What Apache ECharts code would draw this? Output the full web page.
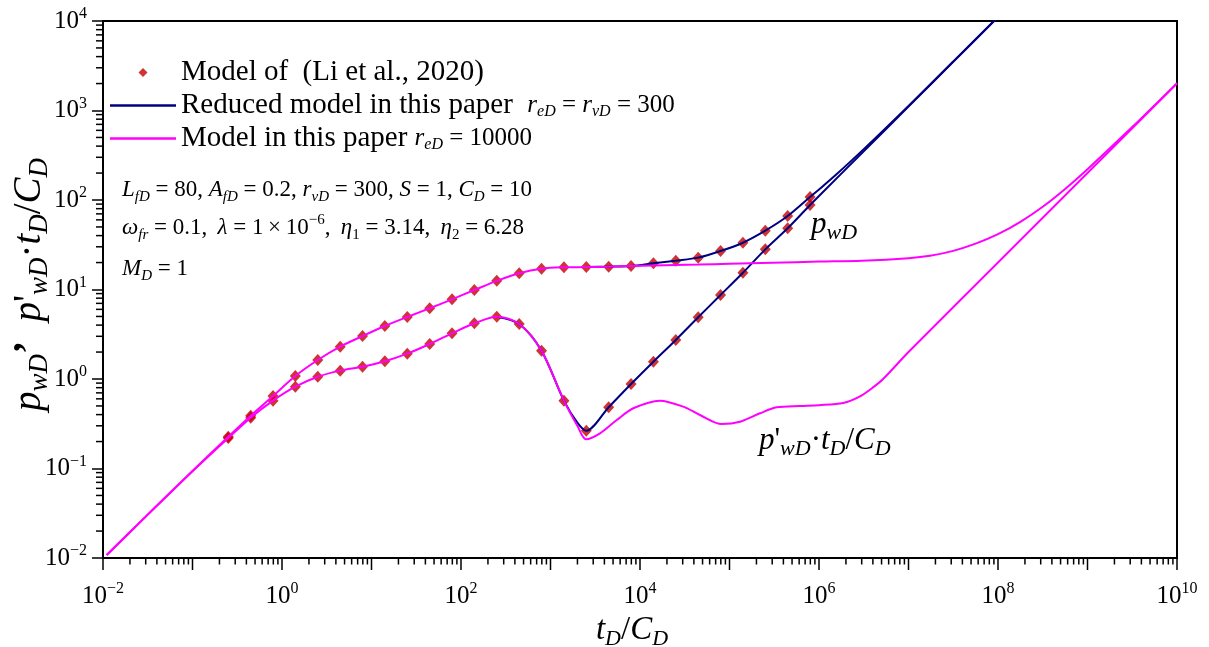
<!DOCTYPE html>
<html>
<head>
<meta charset="utf-8">
<script src="https://cdn.jsdelivr.net/npm/echarts@6/dist/echarts.min.js"></script>
<style>
html, body { margin: 0; padding: 0; background: #ffffff; }
#chart { width: 1209px; height: 647px; }
</style>
</head>
<body>
<div id="chart"></div>
<script>
// ---- Series names ----
const LI = 'Model of  (Li et al., 2020)';
const REDUCED = 'Reduced model in this paper';
const FULL = 'Model in this paper';

// ---- Li et al. (2020): sampled points, tD/CD ----
const liTime = [0.251, 0.447, 0.794, 1.41, 2.51, 4.47, 7.94, 14.1, 25.1, 44.7, 79.4, 141, 251, 447, 794,
  1413, 2512, 4467, 7943, 14125, 25119, 44668, 79433, 141254, 251189, 446684, 794328];
const liPressure = [0.226, 0.389, 0.646, 1.08, 1.63, 2.30, 3.02, 3.91, 4.93, 6.17, 7.77, 9.87, 12.5, 15.2, 17.1,
  17.7, 17.8, 18.0, 18.3, 19.6, 21.0, 22.7, 26.9, 33.3, 45.4, 66.2, 108];
const liDerivative = [0.219, 0.370, 0.573, 0.820, 1.06, 1.24, 1.37, 1.58, 1.92, 2.46, 3.24, 4.19, 4.97, 4.12, 2.07,
  0.573, 0.264, 0.483, 0.879, 1.56, 2.73, 4.89, 8.68, 15.4, 28.1, 48.3, 87.9];

// ---- Reduced model, reD = rvD = 300 ----
const reducedPressureTime = [2512, 4467, 7943, 14125, 25119, 44668, 79433, 141254, 251189, 446684, 794328,
  1.0e6, 1.58e6, 3.16e6, 1.0e7, 3.16e7, 1.0e8];
const reducedPressure = [17.8, 18.0, 18.3, 19.6, 21.0, 22.7, 26.9, 33.3, 45.4, 66.2, 108,
  131, 195, 370, 1127, 3520, 11090];
const reducedDerivativeTime = [251, 447, 794, 1413, 1995, 2512, 4467, 7943, 14125, 25119, 44668, 79433,
  141254, 251189, 446684, 794328, 1.0e6, 3.16e6, 1.0e7, 3.16e7, 1.0e8];
const reducedDerivative = [4.97, 4.12, 2.07, 0.573, 0.325, 0.264, 0.483, 0.879, 1.56, 2.73, 4.89, 8.68,
  15.4, 28.1, 48.3, 87.9, 111, 350, 1107, 3500, 11070];

// ---- Model in this paper, reD = 10000 ----
const fullPressureTime = [0.011, 0.03, 0.1, 0.251, 0.447, 0.794, 1.41, 2.51, 4.47, 7.94, 14.1, 25.1, 44.7, 79.4,
  141, 251, 447, 794, 1413, 2512, 4467, 7943, 14125, 25119, 44668, 1.0e5, 3.0e5, 1.0e6, 3.0e6, 1.0e7,
  1.74e7, 3.16e7, 5.62e7, 1.0e8, 1.78e8, 3.16e8, 5.62e8, 1.0e9, 3.16e9, 1.0e10];
const fullPressure = [0.0108, 0.029, 0.094, 0.226, 0.389, 0.646, 1.08, 1.63, 2.30, 3.02, 3.91, 4.93, 6.17, 7.77,
  9.87, 12.5, 15.2, 17.1, 17.7, 17.8, 18.0, 18.3, 18.5, 18.8, 19.0, 19.4, 19.9, 20.5, 21.0, 22.4,
  23.8, 27.0, 32.5, 41.5, 57, 84, 133, 221, 653, 2021];
const fullDerivativeTime = [0.011, 0.03, 0.1, 0.251, 0.447, 0.794, 1.41, 2.51, 4.47, 7.94, 14.1, 25.1, 44.7, 79.4,
  141, 251, 447, 794, 1413, 1995, 2500, 3573, 5495, 8414, 16710, 30480, 46770, 81850, 131000, 219000,
  337000, 614000, 1.0e6, 1.87e6, 2.87e6, 3.98e6, 5.2e6, 1.0e7, 1.0e8, 1.0e9, 1.0e10];
const fullDerivative = [0.0108, 0.029, 0.093, 0.219, 0.370, 0.573, 0.820, 1.06, 1.24, 1.37, 1.58, 1.92, 2.46, 3.24,
  4.19, 4.97, 4.12, 2.07, 0.573, 0.30, 0.212, 0.247, 0.348, 0.471, 0.573, 0.491, 0.396, 0.314, 0.333, 0.414,
  0.483, 0.50, 0.51, 0.54, 0.64, 0.80, 1.0, 2.0, 20, 200, 2000];

// ---- Axis ranges (decades) ----
const xMinExp = -2, xMaxExp = 10;
const yMinExp = -2, yMaxExp = 4;

const zip = (xs, ys) => xs.map((x, i) => [x, ys[i]]);
const SERIF = '"Liberation Serif", "Times New Roman", serif';
const INK = '#000000';
const NAVY = '#000080';
const PINK = '#ff00ff';
const RED = '#c40000';

// Rich styles for "10^n" tick labels
const tickRich = {
  b: { fontFamily: SERIF, fontSize: 25, lineHeight: 30, color: INK },
  e: { fontFamily: SERIF, fontSize: 16, lineHeight: 20, verticalAlign: 'top', color: INK }
};
const powerLabel = exp => '{b|10}{e|' + (exp < 0 ? '\u2212' + (-exp) : exp) + '}';

// Rich styles for axis titles and curve annotations
function mathRich(size, lh, subSize, subLh) {
  return {
    a: { fontFamily: SERIF, fontStyle: 'italic', fontSize: size, lineHeight: lh, color: INK },
    an: { fontFamily: SERIF, fontSize: size, lineHeight: lh, color: INK },
    as: { fontFamily: SERIF, fontStyle: 'italic', fontSize: subSize, lineHeight: subLh, verticalAlign: 'bottom', color: INK },
    c: { fontFamily: SERIF, fontWeight: 'bold', fontSize: size, lineHeight: lh, color: INK }
  };
}
const xTitleRich = mathRich(33, 40, 22, 16);
const yTitleRich = mathRich(39, 46, 27, 20);
const noteRich = mathRich(31, 38, 22, 16);

// Rich styles for the parameter block
const paramRich = {
  i: { fontFamily: SERIF, fontStyle: 'italic', fontSize: 23, lineHeight: 30, color: INK },
  n: { fontFamily: SERIF, fontSize: 23, lineHeight: 30, color: INK },
  s: { fontFamily: SERIF, fontStyle: 'italic', fontSize: 15, lineHeight: 14, verticalAlign: 'bottom', color: INK },
  sn: { fontFamily: SERIF, fontSize: 15, lineHeight: 14, verticalAlign: 'bottom', color: INK },
  p: { fontFamily: SERIF, fontSize: 15, lineHeight: 17, verticalAlign: 'top', color: INK }
};

// Rich styles for legend entries
const legendRich = {
  t: { fontFamily: SERIF, fontSize: 29, lineHeight: 28, color: INK },
  mi: { fontFamily: SERIF, fontStyle: 'italic', fontSize: 25, lineHeight: 28, color: INK },
  mn: { fontFamily: SERIF, fontSize: 25, lineHeight: 28, color: INK },
  ms: { fontFamily: SERIF, fontStyle: 'italic', fontSize: 16, lineHeight: 12, verticalAlign: 'bottom', color: INK }
};
const legendLabels = {};
legendLabels[LI] = '{t|' + LI + '}';
legendLabels[REDUCED] = '{t|' + REDUCED + '}{t|  }{mi|r}{ms|eD}{mn| = }{mi|r}{ms|vD}{mn| = 300}';
legendLabels[FULL] = '{t|' + FULL + ' }{mi|r}{ms|eD}{mn| = 10000}';
// Legend icons drawn in a 66 x 10 box: a small centred diamond, and a thin bar for the curves
const LEGEND_DIAMOND = 'path://M0,5L0,5M66,5L66,5M33,0.5L37.5,5L33,9.5L28.5,5Z';
const LEGEND_LINE = 'path://M0,0H66V2.4H0Z';

// Tick marks: kind 0 = x major (each decade), 1 = x minor, 2 = y minor
const tickMarks = [];
for (let e = xMinExp; e <= xMaxExp; e++) tickMarks.push([Math.pow(10, e), Math.pow(10, yMinExp), 0, e]);
for (let e = xMinExp; e < xMaxExp; e++) {
  for (let d = 2; d <= 9; d++) tickMarks.push([d * Math.pow(10, e), Math.pow(10, yMinExp), 1, e]);
}
for (let e = yMinExp; e < yMaxExp; e++) {
  for (let d = 2; d <= 9; d++) tickMarks.push([Math.pow(10, xMinExp), d * Math.pow(10, e), 2, e]);
}

function renderTick(params, api) {
  const kind = api.value(2);
  const p = api.coord([api.value(0), api.value(1)]);
  const stroke = { stroke: INK, lineWidth: 1.5 };
  if (kind === 2) {
    return { type: 'line', shape: { x1: p[0] - 7, y1: p[1], x2: p[0], y2: p[1] }, style: stroke };
  }
  const len = kind === 0 ? 12 : 6.5;
  const children = [{ type: 'line', shape: { x1: p[0], y1: p[1], x2: p[0], y2: p[1] + len }, style: stroke }];
  const exp = api.value(3);
  if (kind === 0 && Math.abs(exp) % 2 === 0) {
    children.push({
      type: 'text', x: p[0], y: p[1] + 38,
      style: { text: powerLabel(exp), rich: tickRich, align: 'center', verticalAlign: 'middle' }
    });
  }
  return { type: 'group', children: children };
}

const lineBase = { type: 'line', symbol: 'none', showSymbol: false, smooth: 0.3, silent: true };

const option = {
  animation: false,
  backgroundColor: '#ffffff',
  grid: {
    left: 103, right: 32, top: 21, bottom: 89, outerBoundsMode: 'none', containLabel: false,
    show: true, borderColor: INK, borderWidth: 2, backgroundColor: 'transparent'
  },
  legend: {
    orient: 'vertical', left: 110, top: 58, padding: 0, itemWidth: 66, itemHeight: 10, itemGap: 4,
    selectedMode: false, symbolKeepAspect: true,
    textStyle: { color: INK, fontFamily: SERIF, fontSize: 29, rich: legendRich },
    formatter: name => legendLabels[name],
    data: [
      { name: LI, icon: LEGEND_DIAMOND, itemStyle: { color: RED } },
      { name: REDUCED, icon: LEGEND_LINE, itemStyle: { color: NAVY } },
      { name: FULL, icon: LEGEND_LINE, itemStyle: { color: PINK } }
    ]
  },
  xAxis: {
    type: 'log', logBase: 10, min: Math.pow(10, xMinExp), max: Math.pow(10, xMaxExp),
    axisLine: { lineStyle: { color: INK, width: 2 } },
    axisTick: { show: false }, axisLabel: { show: false }, splitLine: { show: false },
    name: '{a|t}{as|D}{an|/}{a|C}{as|D}', nameLocation: 'middle', nameGap: 52, nameMoveOverlap: false,
    nameTextStyle: { rich: xTitleRich, fontFamily: SERIF, fontSize: 33, color: INK, padding: [0, 16, 0, 0] }
  },
  yAxis: {
    type: 'log', logBase: 10, min: Math.pow(10, yMinExp), max: Math.pow(10, yMaxExp),
    axisLine: { lineStyle: { color: INK, width: 2 } },
    axisTick: { show: true, inside: false, length: 11, lineStyle: { color: INK, width: 1.5 } },
    axisLabel: {
      margin: 16, color: INK, rich: tickRich,
      formatter: v => powerLabel(Math.round(Math.log10(v)))
    },
    splitLine: { show: false },
    name: '{a|p}{as|wD}{c|\u2019  }{a|p}{an|\'}{as|wD}{an|\u00b7}{a|t}{as|D}{an|/}{a|C}{as|D}',
    nameLocation: 'middle', nameGap: 50, nameMoveOverlap: false,
    nameTextStyle: { rich: yTitleRich, fontFamily: SERIF, fontSize: 39, color: INK, padding: [0, 0, 0, 10] }
  },
  graphic: [
    { type: 'text', x: 122, y: 190, silent: true,
      style: { text: '{i|L}{s|fD}{n| = 80, }{i|A}{s|fD}{n| = 0.2, }{i|r}{s|vD}{n| = 300, }{i|S}{n| = 1, }{i|C}{s|D}{n| = 10}',
        rich: paramRich, align: 'left', verticalAlign: 'middle' } },
    { type: 'text', x: 122, y: 228, silent: true,
      style: { text: '{i|\u03c9}{s|fr}{n| = 0.1,\u2009 }{i|\u03bb}{n| = 1\u2009\u00d7\u200910}{p|\u22126}{n|,\u2009 }{i|\u03b7}{sn|1}{n| = 3.14,\u2009 }{i|\u03b7}{sn|2}{n| = 6.28}',
        rich: paramRich, align: 'left', verticalAlign: 'middle' } },
    { type: 'text', x: 122, y: 269, silent: true,
      style: { text: '{i|M}{s|D}{n| = 1}', rich: paramRich, align: 'left', verticalAlign: 'middle' } },
    { type: 'text', x: 811, y: 225, silent: true,
      style: { text: '{a|p}{as|wD}', rich: noteRich, align: 'left', verticalAlign: 'middle' } },
    { type: 'text', x: 759, y: 441, silent: true,
      style: { text: '{a|p}{an|\'}{as|wD}{an|\u00b7}{a|t}{as|D}{an|/}{a|C}{as|D}', rich: noteRich, align: 'left', verticalAlign: 'middle' } }
  ],
  series: [
    { name: LI, type: 'scatter', symbol: 'diamond', symbolSize: [11, 12], itemStyle: { color: RED }, z: 2, silent: true,
      data: zip(liTime, liPressure) },
    { name: LI, type: 'scatter', symbol: 'diamond', symbolSize: [11, 12], itemStyle: { color: RED }, z: 2, silent: true,
      data: zip(liTime, liDerivative) },
    Object.assign({}, lineBase, { name: REDUCED, z: 3, lineStyle: { color: NAVY, width: 2 }, itemStyle: { color: NAVY },
      data: zip(reducedPressureTime, reducedPressure) }),
    Object.assign({}, lineBase, { name: REDUCED, z: 3, lineStyle: { color: NAVY, width: 2 }, itemStyle: { color: NAVY },
      data: zip(reducedDerivativeTime, reducedDerivative) }),
    Object.assign({}, lineBase, { name: FULL, z: 4, lineStyle: { color: PINK, width: 2 }, itemStyle: { color: PINK },
      data: zip(fullPressureTime, fullPressure) }),
    Object.assign({}, lineBase, { name: FULL, z: 4, lineStyle: { color: PINK, width: 2 }, itemStyle: { color: PINK },
      data: zip(fullDerivativeTime, fullDerivative) }),
    { type: 'custom', name: 'ticks', silent: true, z: 5, clip: false, renderItem: renderTick,
      encode: { x: 0, y: 1 }, data: tickMarks }
  ]
};

const chart = echarts.init(document.getElementById('chart'), null, { renderer: 'canvas' });
chart.setOption(option);
</script>
</body>
</html>
